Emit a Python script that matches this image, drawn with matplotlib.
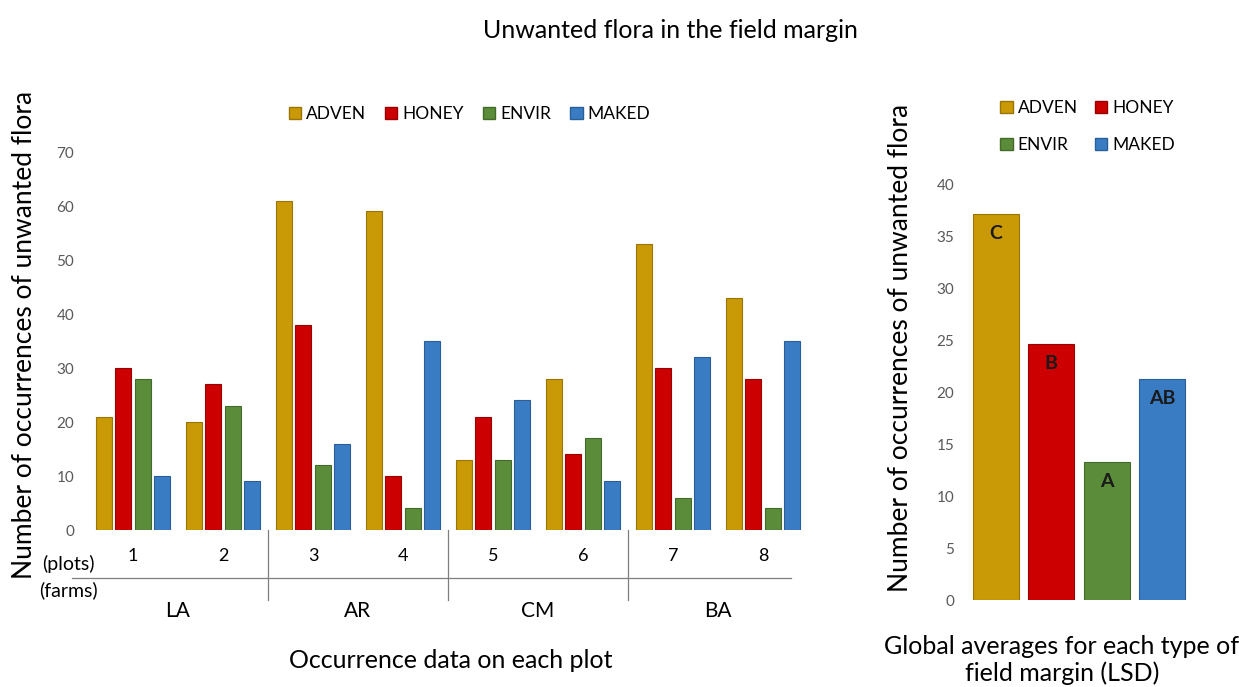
import numpy as np
import matplotlib.pyplot as plt
from matplotlib.patches import Patch

plt.rcParams['font.family'] = ['Lato', 'DejaVu Sans']

# data
plots = ["1", "2", "3", "4", "5", "6", "7", "8"]
farms = ["LA", "AR", "CM", "BA"]
series = ["ADVEN", "HONEY", "ENVIR", "MAKED"]
adven = [21, 20, 61, 59, 13, 28, 53, 43]
honey = [30, 27, 38, 10, 21, 14, 30, 28]
envir = [28, 23, 12, 4, 13, 17, 6, 4]
maked = [10, 9, 16, 35, 24, 9, 32, 35]
global_avg = [37.2, 24.7, 13.3, 21.3]
lsd_letters = ["C", "B", "A", "AB"]

colors = ["#C99A06", "#CC0000", "#5B8C3A", "#3A7CC4"]
edges = ["#9A7504", "#990000", "#436A2A", "#2A5E98"]
tick_col = "#595959"

fig = plt.figure(figsize=(12.39, 6.87), dpi=100)
W, H = 1239, 687

def ax_rect(x0, y0, x1, y1):
    # pixel box -> figure fraction
    return [x0 / W, 1 - y1 / H, (x1 - x0) / W, (y1 - y0) / H]

handles = [Patch(facecolor=colors[k], edgecolor=edges[k], label=series[k]) for k in range(4)]

# ---------- left panel: per plot ----------
ax = fig.add_axes(ax_rect(88, 152, 808, 530))
x = np.arange(len(plots))
step, width = 0.217, 0.178
for k, vals in enumerate([adven, honey, envir, maked]):
    ax.bar(x + (k - 1.5) * step, vals, width, color=colors[k],
           edgecolor=edges[k], linewidth=0.8, label=series[k])
ax.set_xlim(-0.5, 7.5)
ax.set_ylim(0, 70)
ax.set_yticks(range(0, 71, 10))
ax.tick_params(axis='y', length=0, labelsize=11, labelcolor=tick_col, pad=10)
ax.set_xticks(x)
ax.set_xticklabels(plots, fontsize=13)
ax.tick_params(axis='x', length=0, pad=13)
for s in ax.spines.values():
    s.set_visible(False)

trans = ax.get_xaxis_transform()
# farm separators and category line
ax.plot([-0.68, 7.31], [-0.127, -0.127], color="#7f7f7f", lw=0.9,
        transform=trans, clip_on=False)
for sep in [1.5, 3.5, 5.5]:
    ax.plot([sep, sep], [0.0, -0.185], color="#7f7f7f", lw=0.9,
            transform=trans, clip_on=False)
for i, f in enumerate(farms):
    ax.text(2 * i + 0.5, -0.215, f, transform=trans, ha='center', va='center',
            fontsize=15)
ax.text(-0.72, -0.09, "(plots)", transform=trans, ha='center', va='center', fontsize=14)
ax.text(-0.72, -0.158, "(farms)", transform=trans, ha='center', va='center', fontsize=14)

ax.legend(handles=handles, ncol=4, loc='center', bbox_to_anchor=(0.53, 1.10),
          frameon=False, fontsize=12.5, handlelength=0.7, handleheight=0.7,
          handletextpad=0.3, columnspacing=1.1)

fig.text(25 / W, 1 - 335 / H, "Number of occurrences of unwanted flora",
         rotation=90, ha='center', va='center', fontsize=19)
fig.text(451 / W, 1 - 660 / H, "Occurrence data on each plot",
         ha='center', va='center', fontsize=18)

# ---------- right panel: global averages ----------
ax2 = fig.add_axes(ax_rect(968, 185, 1190, 600))
xg = np.arange(len(series))
ax2.bar(xg, global_avg, 0.83, color=colors, edgecolor=edges, linewidth=0.8)
for i, (v, lt) in enumerate(zip(global_avg, lsd_letters)):
    ax2.text(i, v - 1.9, lt, ha='center', va='center', fontsize=14,
             fontweight='bold', color="#1a1a1a")
ax2.set_xlim(-0.5, 3.5)
ax2.set_ylim(0, 40)
ax2.set_yticks(range(0, 41, 5))
ax2.set_xticks([])
ax2.tick_params(axis='y', length=0, labelsize=11, labelcolor=tick_col, pad=10)
for s in ax2.spines.values():
    s.set_visible(False)

# column-wise fill: ADVEN/ENVIR in col 1, HONEY/MAKED in col 2
ax2.legend(handles=[handles[0], handles[2], handles[1], handles[3]],
           ncol=2, loc='center', bbox_to_anchor=(0.54, 1.14), frameon=False,
           fontsize=12.5, handlelength=0.7, handleheight=0.7, handletextpad=0.3,
           columnspacing=1.0, labelspacing=1.2)

fig.text(900 / W, 1 - 348 / H, "Number of occurrences of unwanted flora",
         rotation=90, ha='center', va='center', fontsize=19)
fig.text(1062 / W, 1 - 660 / H, "Global averages for each type of\nfield margin (LSD)",
         ha='center', va='center', fontsize=18, linespacing=1.2)

fig.text(670 / W, 1 - 30 / H, "Unwanted flora in the field margin",
         ha='center', va='center', fontsize=18)

fig.savefig("out.png", dpi=100)
